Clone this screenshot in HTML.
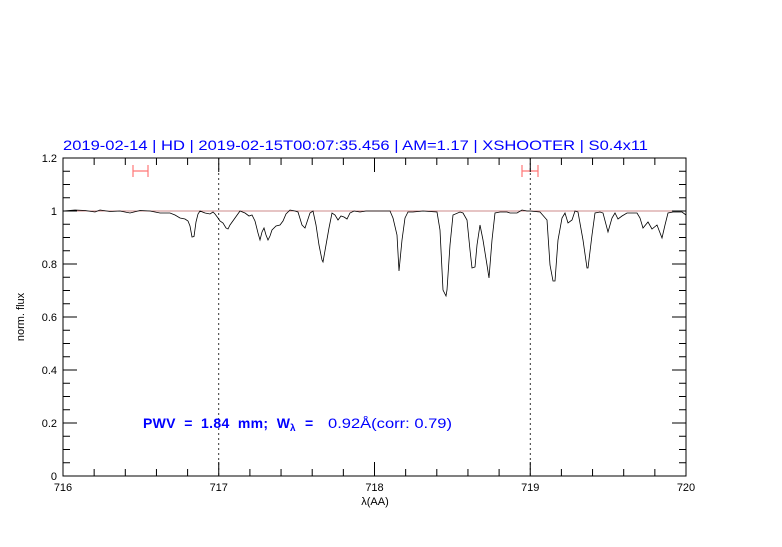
<!DOCTYPE html>
<html><head><meta charset="utf-8"><style>body{margin:0;background:#fff}</style></head><body>
<svg width="782" height="542" xmlns="http://www.w3.org/2000/svg" font-family="Liberation Sans, sans-serif">
<rect width="782" height="542" fill="#fff"/>
<text x="63" y="150" font-size="14" fill="#0000ff" textLength="585" lengthAdjust="spacingAndGlyphs">2019-02-14 | HD | 2019-02-15T00:07:35.456 | AM=1.17 | XSHOOTER | S0.4x11</text>
<line x1="63" y1="211" x2="686" y2="211" stroke="#c88" stroke-width="1"/>
<line x1="218.75" y1="158" x2="218.75" y2="476" stroke="#000" stroke-dasharray="2,3" stroke-width="0.8"/>
<line x1="530.25" y1="158" x2="530.25" y2="476" stroke="#000" stroke-dasharray="2,3" stroke-width="0.8"/>
<g stroke="#f77" stroke-width="1.2" fill="none">
<path d="M133 171H148M133 165V177M148 165V177"/>
<path d="M522 171H538M522 165V177M538 165V177"/>
</g>
<polyline fill="none" stroke="#000" stroke-width="0.8" points="63,211 75,210 85,210.5 95,212 100,210 110,211.5 120,211 130,213 140,210.5 150,211 160,213 170,213 175,215 180,218 185,219 188,221 190,226 192,237 194,236.5 196,222 198,214 200,211 205,213 210,214 213,212 215,214 218,218 220,221 223,223 226,228 228,229 230,225 235,218 240,211 245,213 249,216 252,215 255,221 258,233 260,240 262,232 264,228 266,235 268,240 270,236 272,230 276,226 280,225 283,221 286,214 290,210 295,211 298,212 302,225 305,228 308,219 310,213 313,211 316,225 319,245 322,260 323,262 326,245 329,228 332,213 335,215 338,220 341,216 344,217 347,219 350,213 354,211 360,212 366,211 370,211 390,211 393,218 397,235 399,271 402,240 405,218 408,212 413,212 423,211 437,212 440,230 443,290 446,296 447,290 450,245 453,215 460,212 463,213 467,220 470,250 472,268 475,267 477,245 480,225 483,240 487,265 489,278 492,240 495,213 500,212 507,212 510,213 517,213 522,210 527,211 530,211 540,212 547,220 550,265 553,281 555,281 558,240 562,218 565,213 568,223 572,220 575,211 578,212 583,240 587,268 588,268 592,235 595,213 600,212 603,213 608,232 612,218 615,213 618,219 622,216 627,213 637,213 640,218 643,228 648,222 652,229 657,225 662,238 665,225 668,213 673,212 682,212 686,215"/>
<rect x="63" y="158" width="623" height="318" fill="none" stroke="#000" stroke-width="1"/>
<g stroke="#000" stroke-width="1">
<path d="M94.15 476v-7M125.3 476v-7M156.45 476v-7M187.6 476v-7M249.9 476v-7M281.05 476v-7M312.2 476v-7M343.35 476v-7M405.65 476v-7M436.8 476v-7M467.95 476v-7M499.1 476v-7M561.4 476v-7M592.55 476v-7M623.7 476v-7M654.85 476v-7"/>
<path d="M218.75 476v-14M374.5 476v-14M530.25 476v-14"/>
<path d="M94.15 158v7M125.3 158v7M156.45 158v7M187.6 158v7M249.9 158v7M281.05 158v7M312.2 158v7M343.35 158v7M405.65 158v7M436.8 158v7M467.95 158v7M499.1 158v7M561.4 158v7M592.55 158v7M623.7 158v7M654.85 158v7"/>
<path d="M218.75 158v14M374.5 158v14M530.25 158v14"/>
<path d="M63 462.75h7M63 449.5h7M63 436.25h7M63 409.75h7M63 396.5h7M63 383.25h7M63 356.75h7M63 343.5h7M63 330.25h7M63 303.75h7M63 290.5h7M63 277.25h7M63 250.75h7M63 237.5h7M63 224.25h7M63 197.75h7M63 184.5h7M63 171.25h7"/>
<path d="M63 423h14M63 370h14M63 317h14M63 264h14M63 211h14"/>
<path d="M686 462.75h-7M686 449.5h-7M686 436.25h-7M686 409.75h-7M686 396.5h-7M686 383.25h-7M686 356.75h-7M686 343.5h-7M686 330.25h-7M686 303.75h-7M686 290.5h-7M686 277.25h-7M686 250.75h-7M686 237.5h-7M686 224.25h-7M686 197.75h-7M686 184.5h-7M686 171.25h-7"/>
<path d="M686 423h-14M686 370h-14M686 317h-14M686 264h-14M686 211h-14"/>
</g>
<g font-size="11" fill="#000" text-anchor="middle">
<text x="63" y="491">716</text><text x="218.75" y="491">717</text><text x="374.5" y="491">718</text><text x="530.25" y="491">719</text><text x="686" y="491">720</text>
<text x="375" y="505">λ(AA)</text>
</g>
<g font-size="11" fill="#000" text-anchor="end">
<text x="57" y="480">0</text><text x="57" y="427">0.2</text><text x="57" y="374">0.4</text><text x="57" y="321">0.6</text><text x="57" y="268">0.8</text><text x="57" y="215">1</text><text x="57" y="162">1.2</text>
</g>
<text transform="translate(24,317) rotate(-90)" font-size="11" text-anchor="middle" fill="#000">norm. flux</text>
<g fill="#0000ff" font-size="14" font-weight="bold">
<text x="143" y="428" textLength="147" lengthAdjust="spacing" xml:space="preserve">PWV  =  1.84  mm;  W</text>
<text x="290" y="431" font-size="10">λ</text>
<text x="305" y="428">=</text>
<text x="328" y="428" textLength="124" lengthAdjust="spacingAndGlyphs" font-weight="normal">0.92Å(corr: 0.79)</text>
</g>
</svg>
</body></html>
